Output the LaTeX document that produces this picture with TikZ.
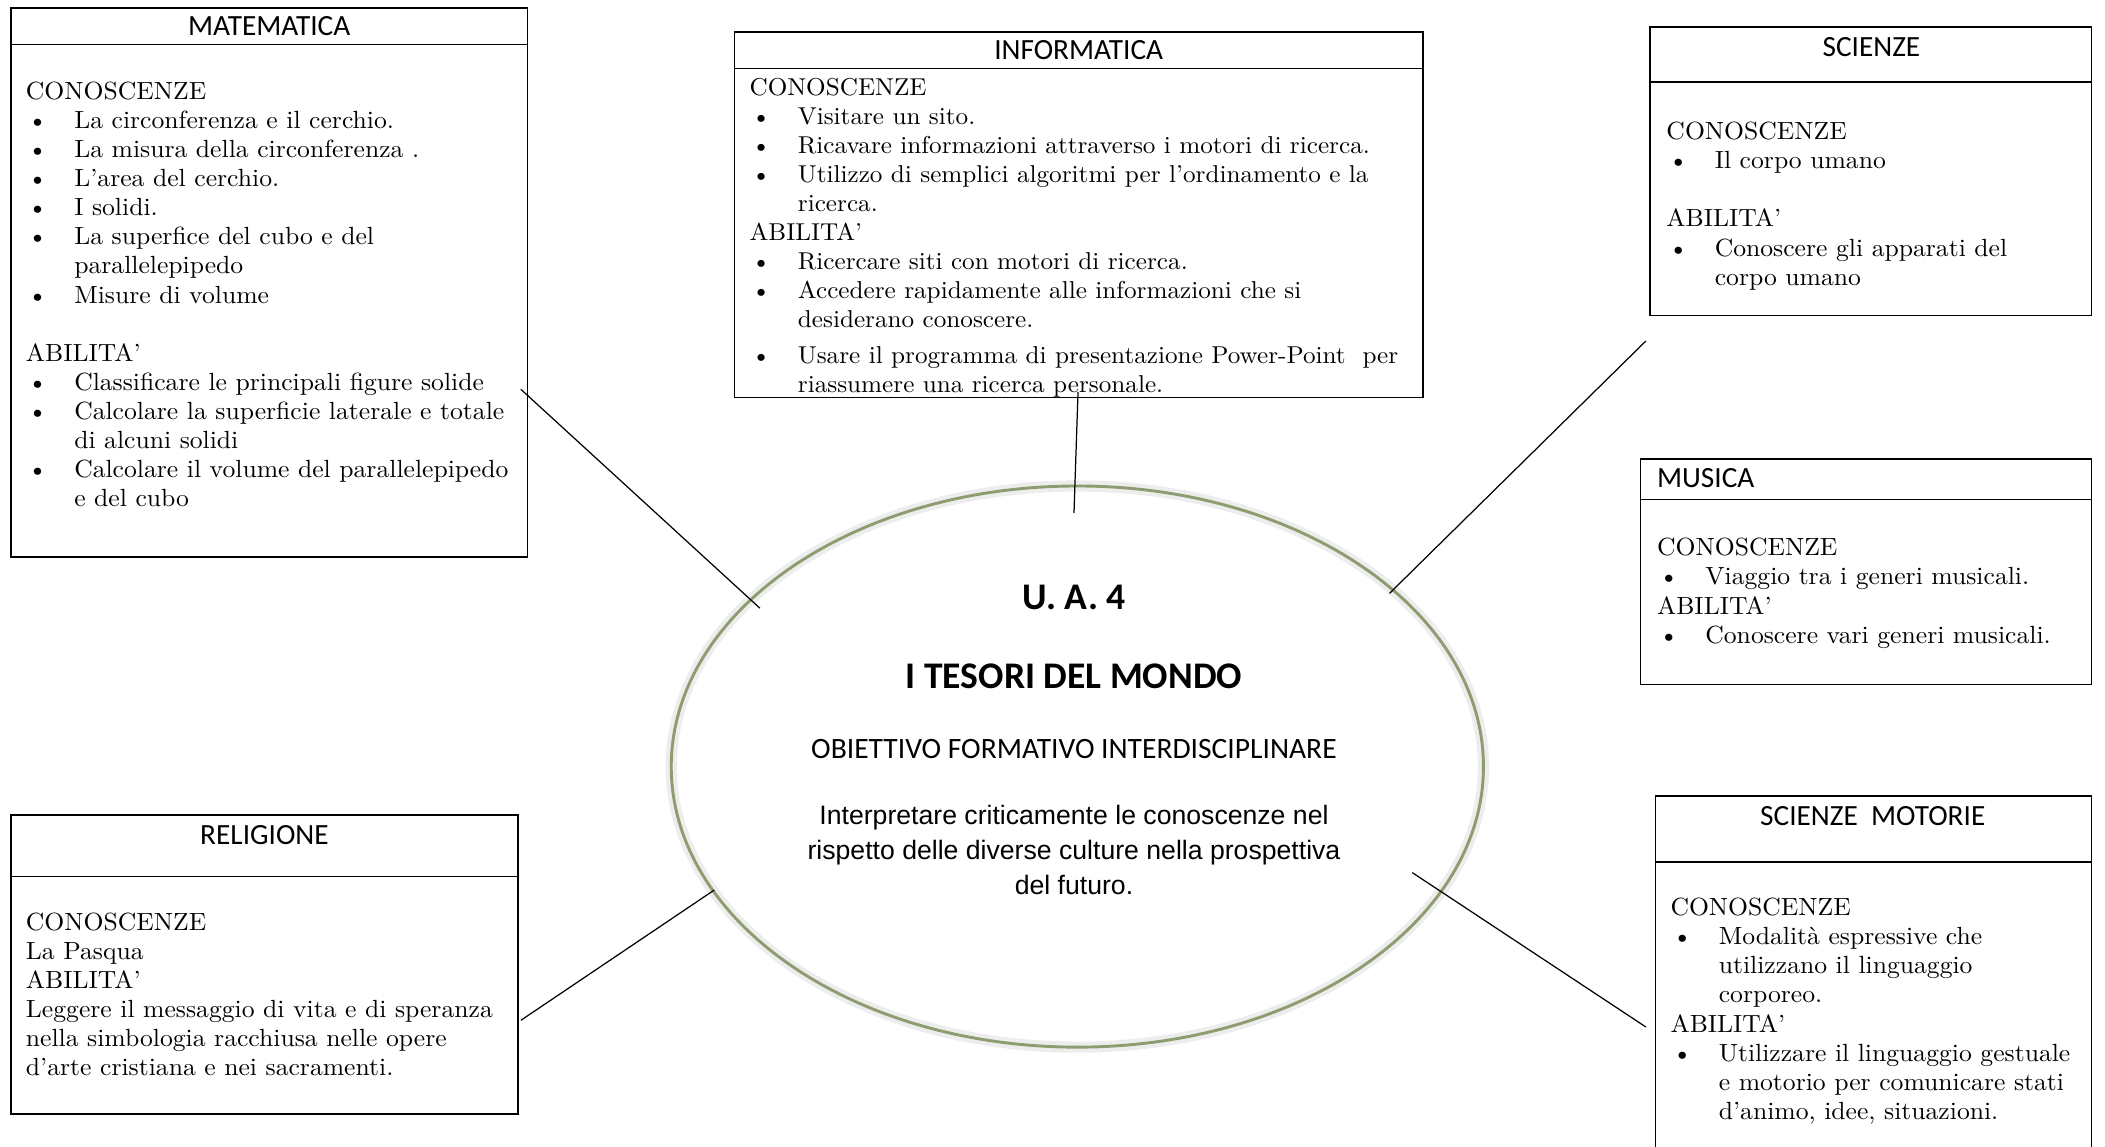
\documentclass[tikz,border=0pt]{standalone}
\usepackage{fontspec}
\usetikzlibrary{shapes.geometric,fit}
\newfontfamily\headfont{Carlito}
\newfontfamily\arialfont{Liberation Sans}
\newfontfamily\corpofont{lmroman10-regular.otf}[Ligatures=TeX, FakeStretch=1.033]
\definecolor{bordoverde}{RGB}{142,157,112}
\newlength{\rientro}\setlength{\rientro}{21.6pt}
\newcommand{\voce}{\makebox[\rientro][l]{\hspace{0.8pt}\textbullet}} % punto elenco
\newcommand{\segue}{\hspace*{\rientro}} % riga a capo dentro una voce

\begin{document}
\begin{tikzpicture}[x=0.6pt,y=-0.6pt]
\tikzstyle{box} = [draw, line width=0.7pt, inner sep=0pt] % riquadro della materia
\tikzstyle{titolo} = [inner sep=0pt, font=\headfont\fontsize{13.1}{15}\selectfont] % nome della materia
\tikzstyle{testo} = [anchor=north west, align=left, inner sep=0pt, font=\corpofont\fontsize{11.1}{13}\selectfont] % conoscenze e abilita
\tikzstyle{centro} = [inner sep=0pt, font=\headfont\bfseries\fontsize{16.8}{20}\selectfont] % titolo dell'unita
\tikzstyle{linea} = [line width=0.55pt] % collegamento

\useasboundingbox (0,0) rectangle (1568,854);
\clip (0,0) rectangle (1568,854);

% MATEMATICA
\node[box, fit={(8,6) (393,415)}] (mat) {};
\node[box, fit={(8,6) (393,33)}] (matH) {};
\node[titolo] (matT) at (matH.center) {MATEMATICA};
\node[testo] (matB) at (19,60.7) {CONOSCENZE\\
\voce La circonferenza e il cerchio.\\
\voce La misura della circonferenza .\\
\voce L'area del cerchio.\\
\voce I solidi.\\
\voce La superfice del cubo e del\\
\segue parallelepipedo\\
\voce Misure di volume\\[13pt]
ABILITA'\\
\voce Classificare le principali figure solide\\
\voce Calcolare la superficie laterale e totale\\
\segue di alcuni solidi\\
\voce Calcolare il volume del parallelepipedo\\
\segue e del cubo};

% INFORMATICA
\node[box, fit={(547,24) (1060,296)}] (inf) {};
\node[box, fit={(547,24) (1060,51)}] (infH) {};
\node[titolo] (infT) at (infH.center) {INFORMATICA};
\node[testo, font=\corpofont\fontsize{10.9}{13}\selectfont] (infB) at (558,57.7) {CONOSCENZE\\
\voce Visitare un sito.\\
\voce Ricavare informazioni attraverso i motori di ricerca.\\
\voce Utilizzo di semplici algoritmi per l'ordinamento e la\\
\segue ricerca.\\
ABILITA'\\
\voce Ricercare siti con motori di ricerca.\\
\voce Accedere rapidamente alle informazioni che si\\
\segue desiderano conoscere.\\[3pt]
\voce Usare il programma di presentazione Power-Point\ \ per\\
\segue riassumere una ricerca personale.};

% SCIENZE
\node[box, fit={(1229,20) (1558,235)}] (sci) {};
\node[box, fit={(1229,20) (1558,61)}] (sciH) {};
\node[titolo] (sciT) at (1394,35) {SCIENZE};
\node[testo] (sciB) at (1241,90.7) {CONOSCENZE\\
\voce Il corpo umano\\[13pt]
ABILITA'\\
\voce Conoscere gli apparati del\\
\segue corpo umano};

% MUSICA
\node[box, fit={(1222,342) (1558,510)}] (mus) {};
\node[box, fit={(1222,342) (1558,372)}] (musH) {};
\node[titolo, anchor=west] (musT) at (1234,356) {MUSICA};
\node[testo] (musB) at (1234,400.7) {CONOSCENZE\\
\voce Viaggio tra i generi musicali.\\
ABILITA'\\
\voce Conoscere vari generi musicali.};

% RELIGIONE
\node[box, fit={(8,607) (386,830)}] (rel) {};
\node[box, fit={(8,607) (386,653)}] (relH) {};
\node[titolo] (relT) at (197,622) {RELIGIONE};
\node[testo] (relB) at (19,679.7) {CONOSCENZE\\
La Pasqua\\
ABILITA'\\
Leggere il messaggio di vita e di speranza\\
nella simbologia racchiusa nelle opere\\
d'arte cristiana e nei sacramenti.};

% SCIENZE MOTORIE (il fondo esce dalla pagina)
\node[box, fit={(1233,593) (1558,900)}] (mot) {};
\node[box, fit={(1233,593) (1558,642)}] (motH) {};
\node[titolo] (motT) at (1395,608) {SCIENZE\ \ MOTORIE};
\node[testo] (motB) at (1244,668.7) {CONOSCENZE\\
\voce Modalità espressive che\\
\segue utilizzano il linguaggio\\
\segue corporeo.\\
ABILITA'\\
\voce Utilizzare il linguaggio gestuale\\
\segue e motorio per comunicare stati\\
\segue d'animo, idee, situazioni.};

% unita di apprendimento al centro
\node[ellipse, draw=bordoverde, line width=1.3pt, preaction={draw=gray!14, line width=5pt},
      minimum width=605*0.6pt, minimum height=418*0.6pt, inner sep=0pt] (uda) at (802.5,571) {};
\node[centro] (ua) at (800,445) {U. A. 4};
\node[centro] (tesori) at (800,503.5) {I TESORI DEL MONDO};
\node[inner sep=0pt, font=\headfont\fontsize{13.2}{15}\selectfont] (obi) at (800,558) {OBIETTIVO FORMATIVO INTERDISCIPLINARE};
\node[inner sep=0pt, align=center, font=\arialfont\fontsize{11.9}{15.6}\selectfont] (interp) at (800,633)
     {Interpretare criticamente le conoscenze nel\\rispetto delle diverse culture nella prospettiva\\del futuro.};

% estremi dei collegamenti
\coordinate (matA) at (388,290); \coordinate (matZ) at (566,453);
\coordinate (infA) at (803,292); \coordinate (infZ) at (800,382);
\coordinate (sciA) at (1226,254); \coordinate (sciZ) at (1035,442);
\coordinate (relA) at (388,760); \coordinate (relZ) at (532,663);
\coordinate (motA) at (1226,765); \coordinate (motZ) at (1052,650);

\draw[linea] (matA) -- (matZ);
\draw[linea] (infA) -- (infZ);
\draw[linea] (sciA) -- (sciZ);
\draw[linea] (relA) -- (relZ);
\draw[linea] (motA) -- (motZ);
\end{tikzpicture}
\end{document}
